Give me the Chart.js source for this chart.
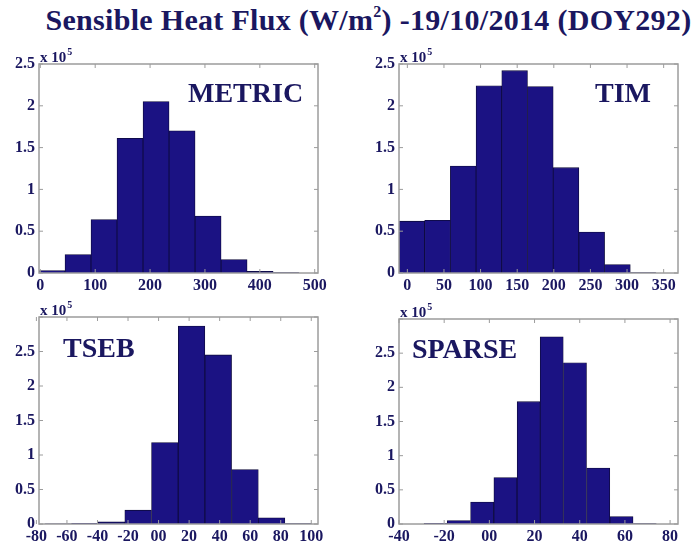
<!DOCTYPE html>
<html>
<head>
<meta charset="utf-8">
<script src="https://cdn.jsdelivr.net/npm/chart.js@4.4.1/dist/chart.umd.min.js"></script>
<style>
	body { margin: 0; background: #ffffff; }
	#wrap { position: relative; width: 697px; height: 551px; }
	#title { position: absolute; left: 20px; top: 3px; width: 697px; text-align: center;
		font: bold 30px "Liberation Serif", "DejaVu Serif", serif; letter-spacing: 0.3px; color: #1a1760; }
	#title sup { font-size: 16px; vertical-align: 13px; line-height: 0; }
	.panel { position: absolute; }
</style>
</head>
<body>
<div id="wrap">
	<div id="title">Sensible Heat Flux (W/m<sup>2</sup>) -19/10/2014 (DOY292)</div>
	<canvas class="panel" id="METRIC_hist" style="left:0px;top:42px"></canvas>
	<canvas class="panel" id="TIM_hist" style="left:350px;top:42px"></canvas>
	<canvas class="panel" id="TSEB_hist" style="left:0px;top:300px"></canvas>
	<canvas class="panel" id="SPARSE_hist" style="left:350px;top:300px"></canvas>
</div>
<script>
// bin centres and counts (x 10^5)

let binsMETRIC = [21.3, 68.7, 116.1, 163.5, 210.9, 258.3, 305.7, 353.1, 400.5, 447.9];
let countsMETRIC = [0.03, 0.22, 0.64, 1.61, 2.05, 1.70, 0.68, 0.16, 0.02, 0.005];
let xTicksMETRIC = [0, 100, 200, 300, 400, 500];

let binsTIM = [6.1, 41.2, 76.3, 111.4, 146.5, 181.6, 216.7, 251.8, 286.9, 322.0];
let countsTIM = [0.62, 0.63, 1.28, 2.24, 2.42, 2.23, 1.26, 0.49, 0.10, 0.005];
let xTicksTIM = [0, 50, 100, 150, 200, 250, 300, 350];

let binsTSEB = [-65.8, -48.3, -30.8, -13.4, 4.1, 21.6, 39.1, 56.6, 74.0, 91.5];
let countsTSEB = [0.003, 0.01, 0.03, 0.20, 1.18, 2.87, 2.45, 0.79, 0.09, 0.005];
let xTicksTSEB = [-80, -60, -40, -20, 0, 20, 40, 60, 80, 100];

let binsSPARSE = [-23.8, -13.5, -3.2, 7.1, 17.4, 27.6, 37.9, 48.2, 58.5, 68.8];
let countsSPARSE = [0.01, 0.05, 0.32, 0.68, 1.79, 2.74, 2.36, 0.82, 0.11, 0.005];
let xTicksSPARSE = [-40, -20, 0, 20, 40, 60, 80];

let yTicksTop = [0, 0.5, 1, 1.5, 2, 2.5];
let yTicksBottom = [0, 0.5, 1, 1.5, 2, 2.5, 3];

let textColor = '#1a1760';
let barColor = '#1b1283';

// frame round the plot area, small inward ticks, model name and x 10^5
let framePlugin = {
	id: 'frame',
	afterDraw: function(chart, args, opts) {
		let ctx = chart.ctx;
		let a = chart.chartArea;
		ctx.save();
		ctx.strokeStyle = '#9c9c9c';
		ctx.lineWidth = 1.5;
		ctx.strokeRect(a.left, a.top, a.right - a.left, a.bottom - a.top);
		ctx.lineWidth = 1;
		ctx.beginPath();
		chart.scales.x.ticks.forEach(function(t) {
			let px = chart.scales.x.getPixelForValue(t.value);
			ctx.moveTo(px, a.top); ctx.lineTo(px, a.top + 4);
			ctx.moveTo(px, a.bottom); ctx.lineTo(px, a.bottom - 4);
		});
		chart.scales.y.ticks.forEach(function(t) {
			let py = chart.scales.y.getPixelForValue(t.value);
			ctx.moveTo(a.left, py); ctx.lineTo(a.left + 4, py);
			ctx.moveTo(a.right, py); ctx.lineTo(a.right - 4, py);
		});
		ctx.stroke();

		ctx.fillStyle = textColor;
		ctx.textBaseline = 'alphabetic';
		ctx.font = 'bold 15px "Liberation Serif", serif';
		ctx.fillText('x 10', a.left + 1, a.top - 2);
		let w = ctx.measureText('x 10').width;
		ctx.font = 'bold 10px "Liberation Serif", serif';
		ctx.fillText('5', a.left + 1 + w + 1, a.top - 9);

		ctx.font = 'bold 28px "Liberation Serif", serif';
		ctx.fillText(opts.name, a.left + opts.nx, a.top + opts.ny);
		ctx.restore();
	}
};

let makeHist = function(id, bins, counts, xTicks, xMin, xMax, yTicks, yMax, nameX, nameY, name, w, h, pad) {
	let ctx = document.getElementById(id).getContext('2d');
	ctx.canvas.width = w;
	ctx.canvas.height = h;
	let points = [];
	for (let i = 0; i < bins.length; i++) {
		points.push({x: bins[i], y: counts[i]});
	}
	return new Chart(ctx, {
		type: 'bar',
		data: {
			datasets: [{
				data: points,
				backgroundColor: barColor,
				borderColor: '#0d0a3a',
				borderWidth: 0.8,
				barPercentage: 1,
				categoryPercentage: 1
			}]
		},
		options: {
			responsive: false,
			animation: false,
			layout: { padding: pad },
			plugins: {
				legend: { display: false },
				tooltip: { enabled: false },
				frame: { name: name, nx: nameX, ny: nameY }
			},
			scales: {
				x: {
					type: 'linear',
					offset: false,
					min: xMin,
					max: xMax,
					grid: { display: false, drawTicks: false },
					border: { display: false },
					afterBuildTicks: function(scale) {
						scale.ticks = xTicks.map(function(v) { return {value: v}; });
					},
					afterFit: function(scale) { scale.height = 27; },
					ticks: {
						autoSkip: false,
						maxRotation: 0,
						padding: 3,
						color: textColor,
						font: { family: '"Liberation Serif", serif', size: 16, weight: 'bold' },
						callback: function(v) { return v === 0 && xTicks[0] < 0 ? '00' : String(v); }
					}
				},
				y: {
					min: 0,
					max: yMax,
					grid: { display: false, drawTicks: false },
					border: { display: false },
					afterBuildTicks: function(scale) {
						scale.ticks = yTicks.map(function(v) { return {value: v}; });
					},
					afterFit: function(scale) { scale.width = 39; },
					ticks: {
						padding: 4,
						color: textColor,
						font: { family: '"Liberation Serif", serif', size: 16, weight: 'bold' },
						callback: function(v) { return v === 3 ? '' : String(v); }
					}
				}
			}
		},
		plugins: [framePlugin]
	});
};

let METRIC_hist = makeHist('METRIC_hist', binsMETRIC, countsMETRIC, xTicksMETRIC, -2.4, 506,
	yTicksTop, 2.5, 149, 38, 'METRIC', 340, 258, {left: 0, right: 22, top: 22, bottom: 0});
let TIM_hist = makeHist('TIM_hist', binsTIM, countsTIM, xTicksTIM, -11.4, 369.6,
	yTicksTop, 2.5, 196, 38, 'TIM', 347, 258, {left: 10, right: 19, top: 22, bottom: 0});
let TSEB_hist = makeHist('TSEB_hist', binsTSEB, countsTSEB, xTicksTSEB, -78.3, 104.4,
	yTicksBottom, 3, 24, 40, 'TSEB', 340, 251, {left: 0, right: 22, top: 17, bottom: 0});
let SPARSE_hist = makeHist('SPARSE_hist', binsSPARSE, countsSPARSE, xTicksSPARSE, -40, 83.5,
	yTicksBottom, 3, 13, 39, 'SPARSE', 347, 251, {left: 10, right: 19, top: 19, bottom: 0});
</script>
</body>
</html>
